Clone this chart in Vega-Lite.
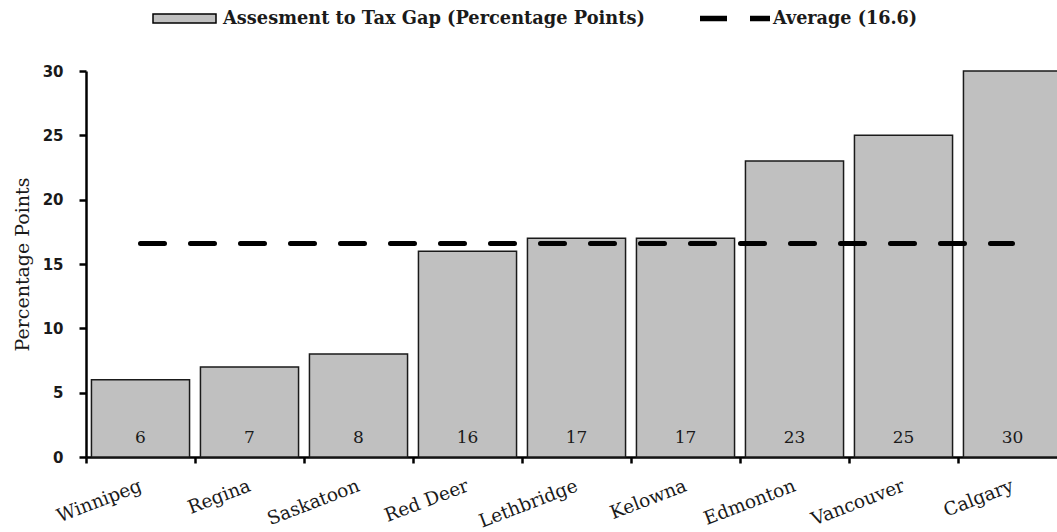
{
  "$schema": "https://vega.github.io/schema/vega-lite/v6.json",
  "autosize": "none",
  "width": 971,
  "height": 386,
  "padding": {"left": 86, "top": 71, "right": 0, "bottom": 75},
  "background": "white",
  "config": {
    "view": {"stroke": null},
    "font": "DejaVu Serif",
    "axis": {"grid": false, "domainColor": "black", "domainWidth": 2.5, "tickColor": "black", "tickWidth": 2.5, "labelColor": "#1a1a1a", "titleColor": "#1a1a1a"}
  },
  "data": {
    "values": [
      {"city": "Winnipeg", "gap": 6, "avg": 16.6},
      {"city": "Regina", "gap": 7, "avg": 16.6},
      {"city": "Saskatoon", "gap": 8, "avg": 16.6},
      {"city": "Red Deer", "gap": 16, "avg": 16.6},
      {"city": "Lethbridge", "gap": 17, "avg": 16.6},
      {"city": "Kelowna", "gap": 17, "avg": 16.6},
      {"city": "Edmonton", "gap": 23, "avg": 16.6},
      {"city": "Vancouver", "gap": 25, "avg": 16.6},
      {"city": "Calgary", "gap": 30, "avg": 16.6}
    ]
  },
  "encoding": {
    "x": {
      "field": "city",
      "type": "nominal",
      "sort": null,
      "title": null,
      "scale": {"range": [0, 981], "paddingInner": 0.1, "paddingOuter": 0.05},
      "axis": {
        "bandPosition": 0,
        "tickOffset": -5.5,
        "tickSize": 6,
        "labelOffset": 2,
        "labelAngle": -21,
        "labelAlign": "right",
        "labelBaseline": "top",
        "labelPadding": 13,
        "labelFont": "DejaVu Serif",
        "labelFontSize": 18.5
      }
    }
  },
  "layer": [
    {
      "mark": {"type": "bar", "stroke": "#1a1a1a", "strokeWidth": 1.5},
      "encoding": {
        "y": {
          "field": "gap",
          "type": "quantitative",
          "scale": {"domain": [0, 30], "nice": false},
          "axis": {
            "title": "Percentage Points",
            "values": [0, 5, 10, 15, 20, 25, 30],
            "tickSize": 7,
            "labelFont": "DejaVu Sans",
            "labelFontWeight": "bold",
            "labelFontSize": 15,
            "labelPadding": 16,
            "titleFont": "DejaVu Serif",
            "titleFontSize": 19,
            "titleFontWeight": "normal",
            "titlePadding": 10
          }
        },
        "fill": {
          "datum": "Assesment to Tax Gap (Percentage Points)",
          "scale": {"range": ["#c0c0c0"]},
          "legend": {
            "title": null,
            "orient": "none",
            "legendX": 66,
            "legendY": -85,
            "symbolType": "M-1,-0.143H1V0.143H-1Z",
            "symbolSize": 3969,
            "symbolStrokeColor": "black",
            "symbolStrokeWidth": 1.5,
            "labelOffset": 6,
            "labelFont": "DejaVu Serif",
            "labelFontWeight": "bold",
            "labelFontSize": 17.8,
            "labelColor": "#1a1a1a",
            "labelLimit": 600
          }
        }
      }
    },
    {
      "mark": {"type": "text", "dy": -14, "baseline": "alphabetic", "fontSize": 17, "font": "DejaVu Serif", "color": "#1a1a1a"},
      "encoding": {
        "y": {"datum": 0, "type": "quantitative"},
        "text": {"field": "gap", "type": "quantitative"}
      }
    },
    {
      "mark": {"type": "line", "strokeWidth": 5, "strokeCap": "round", "strokeDash": [24, 26]},
      "encoding": {
        "y": {"field": "avg", "type": "quantitative", "title": "Percentage Points"},
        "stroke": {
          "datum": "Average (16.6)",
          "scale": {"range": ["black"]},
          "legend": {
            "title": null,
            "orient": "none",
            "legendX": 611,
            "legendY": -90.5,
            "symbolType": "stroke",
            "symbolSize": 4900,
            "symbolStrokeWidth": 5.5,
            "symbolDash": [27, 23],
            "labelOffset": 0,
            "labelFont": "DejaVu Serif",
            "labelFontWeight": "bold",
            "labelFontSize": 17.6,
            "labelColor": "#1a1a1a",
            "labelLimit": 300
          }
        }
      }
    }
  ]
}
